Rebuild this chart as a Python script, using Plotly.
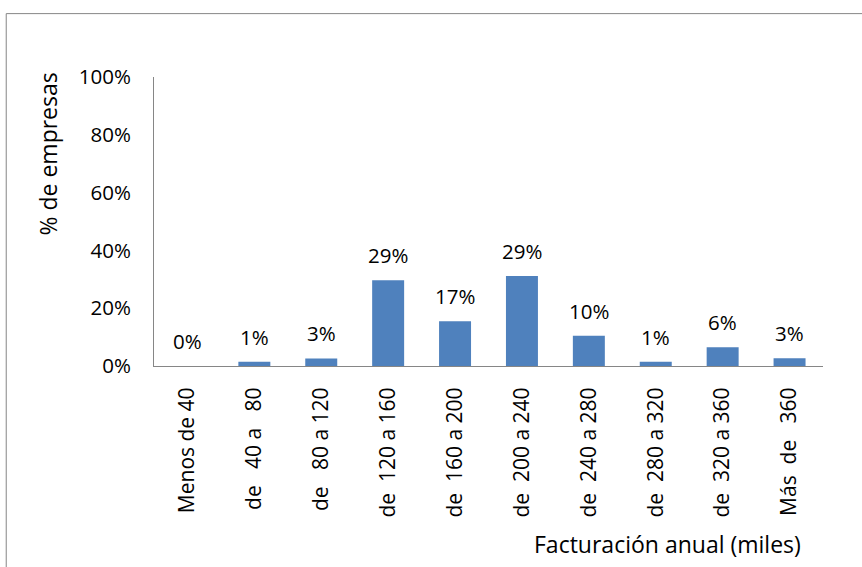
import plotly.graph_objects as go

categories = ["Menos de 40", "de\u00a0\u00a0\u00a040 a\u00a0\u00a0\u00a080", "de\u00a0\u00a0\u00a080 a 120",
              "de\u00a0\u00a0120 a 160", "de\u00a0\u00a0160 a 200", "de\u00a0\u00a0200 a 240",
              "de\u00a0\u00a0240 a 280", "de\u00a0\u00a0280 a 320", "de\u00a0\u00a0320 a 360",
              "Más\u00a0\u00a0de\u00a0\u00a0\u00a0360"]
values = [0.0, 0.015, 0.026, 0.297, 0.155, 0.311, 0.105, 0.015, 0.065, 0.027]
labels = ["0%", "1%", "3%", "29%", "17%", "29%", "10%", "1%", "6%", "3%"]
y_ticks = [0, 0.2, 0.4, 0.6, 0.8, 1.0]

FONT = "Open Sans"
W, H = 862, 567
L, R, T, B = 153.5, 38.5, 77, 200.5
pw, ph = W - L - R, H - T - B

def px(x):
    return (x - L) / pw

def py(y):
    return (H - B - y) / ph

fig = go.Figure()
fig.add_trace(go.Bar(x=categories, y=values, marker=dict(color="#4F81BD", line=dict(width=0)),
                     hoverinfo="skip"))

annotations = []
for c, v, t in zip(categories, values, labels):
    annotations.append(dict(x=c, y=v, xref="x", yref="y", text=t, showarrow=False,
                            yanchor="middle", yshift=25, font=dict(family=FONT, size=20.5, color="#000")))
annotations.append(dict(x=px(47), y=py(154), xref="paper", yref="paper", text="% de empresas",
                        textangle=-90, showarrow=False, xanchor="center", yanchor="middle",
                        font=dict(family=FONT, size=23, color="#000")))
annotations.append(dict(x=px(803), y=py(545), xref="paper", yref="paper", text="Facturación anual (miles)",
                        showarrow=False, xanchor="right", yanchor="middle",
                        font=dict(family=FONT, size=23, color="#000")))

fig.update_layout(
    width=W, height=H,
    margin=dict(l=L, r=R, t=T, b=B, pad=0),
    paper_bgcolor="white", plot_bgcolor="white",
    bargap=0.522, showlegend=False,
    annotations=annotations,
    shapes=[dict(type="rect", xref="paper", yref="paper", x0=px(5.5), x1=px(900), y0=py(620), y1=py(13.5),
                 line=dict(color="#868686", width=1), fillcolor="rgba(0,0,0,0)", layer="below")],
    xaxis=dict(showline=True, linecolor="#868686", linewidth=1, tickangle=-90,
               ticks="outside", ticklen=12, tickcolor="rgba(0,0,0,0)",
               tickfont=dict(family=FONT, size=21, color="#000"), showgrid=False, fixedrange=True),
    yaxis=dict(range=[0, 1], tickvals=y_ticks, tickformat=".0%", showline=True, linecolor="#868686",
               linewidth=1, ticks="outside", ticklen=18, tickcolor="rgba(0,0,0,0)",
               tickfont=dict(family=FONT, size=20.5, color="#000"), showgrid=False, zeroline=False,
               fixedrange=True),
)

fig.write_html("out.html", config={"displayModeBar": False},
               post_script="document.body.style.margin='0px';document.body.style.overflow='hidden';")
